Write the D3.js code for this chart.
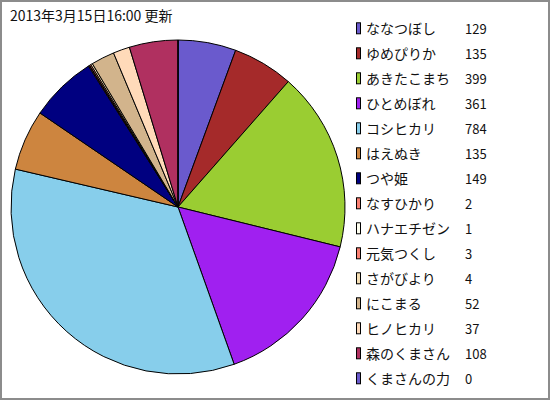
<!DOCTYPE html>
<html><head><meta charset="utf-8">
<script src="https://cdn.jsdelivr.net/npm/d3@7"></script>
<style>
html,body{margin:0;padding:0;background:#fff;}
svg{display:block;}
text{font-family:"Noto Sans CJK JP","Noto Sans",sans-serif;font-size:13px;fill:#111;}
text.name,text.title{font-size:14px;}
</style></head>
<body>
<script>
const title = "2013年3月15日16:00 更新";
const categories = ["ななつぼし","ゆめぴりか","あきたこまち","ひとめぼれ","コシヒカリ","はえぬき","つや姫","なすひかり","ハナエチゼン","元気つくし","さがびより","にこまる","ヒノヒカリ","森のくまさん","くまさんの力"];
const values = [129,135,399,361,784,135,149,2,1,3,4,52,37,108,0];
const colors = ["#6A5ACD","#A52A2A","#9ACD32","#A020F0","#87CEEB","#CD853F","#000080","#FA8072","#FFFFF0","#FA8072","#F5DEB3","#D2B48C","#FFDAB9","#B03060","#6A5ACD"];

const W = 550, H = 400;
const svg = d3.select("body").append("svg").attr("width", W).attr("height", H);

svg.append("rect").attr("x",1).attr("y",1).attr("width",W-2).attr("height",H-2)
  .attr("fill","#fff").attr("stroke","#8c8c8c").attr("stroke-width",2);

svg.append("text").attr("class","title").attr("x",10).attr("y",15).attr("dominant-baseline","central").text(title);

const data = categories.map((c,i)=>({name:c,value:values[i],color:colors[i]}));
const pie = d3.pie().value(d=>d.value).sort(null);
const arc = d3.arc().innerRadius(0).outerRadius(167);
const g = svg.append("g").attr("transform","translate(178,207)");
g.selectAll("path").data(pie(data)).join("path")
  .attr("d",arc).attr("fill",d=>d.data.color)
  .attr("stroke","#000").attr("stroke-width",1).attr("stroke-linejoin","round");

const y = d3.scalePoint().domain(categories).range([28.3, 378.3]);
const lg = svg.append("g");
const row = lg.selectAll("g").data(data).join("g")
  .attr("transform",d=>`translate(0,${y(d.name)})`);
row.append("rect").attr("x",356.5).attr("y",-5.5).attr("width",4).attr("height",11)
  .attr("fill",d=>d.color).attr("stroke","#000").attr("stroke-width",1);
row.append("text").attr("class","name").attr("x",366).attr("y",0).attr("dominant-baseline","central").text(d=>d.name);
row.append("text").attr("x",465).attr("y",0).attr("dominant-baseline","central").text(d=>d.value);
</script>
</body></html>
